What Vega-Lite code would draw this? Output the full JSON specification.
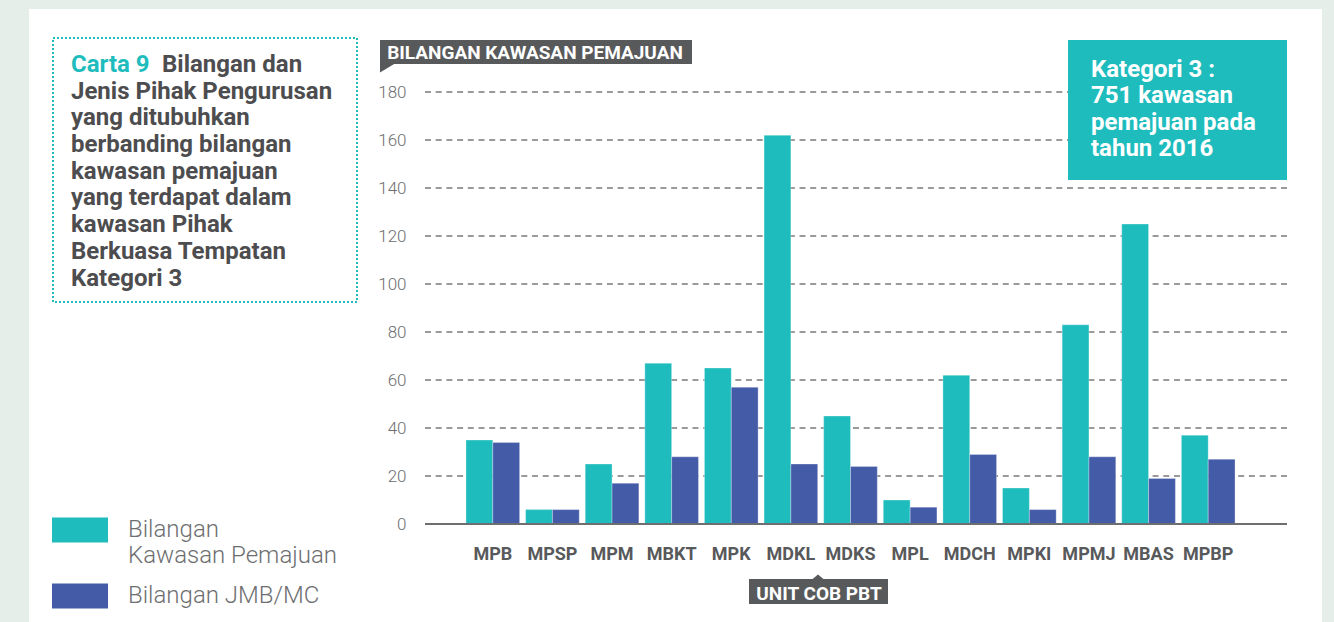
{
  "$schema": "https://vega.github.io/schema/vega-lite/v6.json",
  "autosize": {"type": "none"},
  "padding": {"left": 425, "top": 92, "right": 47, "bottom": 98},
  "width": 862,
  "height": 432,
  "background": "#ffffff",
  "config": {
    "view": {"stroke": null},
    "font": "Roboto"
  },
  "datasets": {
    "bars": [
      {"pbt": "MPB", "siri": "Bilangan Kawasan Pemajuan", "nilai": 35},
      {"pbt": "MPB", "siri": "Bilangan JMB/MC", "nilai": 34},
      {"pbt": "MPSP", "siri": "Bilangan Kawasan Pemajuan", "nilai": 6},
      {"pbt": "MPSP", "siri": "Bilangan JMB/MC", "nilai": 6},
      {"pbt": "MPM", "siri": "Bilangan Kawasan Pemajuan", "nilai": 25},
      {"pbt": "MPM", "siri": "Bilangan JMB/MC", "nilai": 17},
      {"pbt": "MBKT", "siri": "Bilangan Kawasan Pemajuan", "nilai": 67},
      {"pbt": "MBKT", "siri": "Bilangan JMB/MC", "nilai": 28},
      {"pbt": "MPK", "siri": "Bilangan Kawasan Pemajuan", "nilai": 65},
      {"pbt": "MPK", "siri": "Bilangan JMB/MC", "nilai": 57},
      {"pbt": "MDKL", "siri": "Bilangan Kawasan Pemajuan", "nilai": 162},
      {"pbt": "MDKL", "siri": "Bilangan JMB/MC", "nilai": 25},
      {"pbt": "MDKS", "siri": "Bilangan Kawasan Pemajuan", "nilai": 45},
      {"pbt": "MDKS", "siri": "Bilangan JMB/MC", "nilai": 24},
      {"pbt": "MPL", "siri": "Bilangan Kawasan Pemajuan", "nilai": 10},
      {"pbt": "MPL", "siri": "Bilangan JMB/MC", "nilai": 7},
      {"pbt": "MDCH", "siri": "Bilangan Kawasan Pemajuan", "nilai": 62},
      {"pbt": "MDCH", "siri": "Bilangan JMB/MC", "nilai": 29},
      {"pbt": "MPKI", "siri": "Bilangan Kawasan Pemajuan", "nilai": 15},
      {"pbt": "MPKI", "siri": "Bilangan JMB/MC", "nilai": 6},
      {"pbt": "MPMJ", "siri": "Bilangan Kawasan Pemajuan", "nilai": 83},
      {"pbt": "MPMJ", "siri": "Bilangan JMB/MC", "nilai": 28},
      {"pbt": "MBAS", "siri": "Bilangan Kawasan Pemajuan", "nilai": 125},
      {"pbt": "MBAS", "siri": "Bilangan JMB/MC", "nilai": 19},
      {"pbt": "MPBP", "siri": "Bilangan Kawasan Pemajuan", "nilai": 37},
      {"pbt": "MPBP", "siri": "Bilangan JMB/MC", "nilai": 27}
    ]
  },
  "layer": [
    {
      "data": {"values": [{}]},
      "mark": {"type": "rect", "fill": "#E6EEE9"},
      "encoding": {"x": {"value": -425}, "x2": {"value": -396}, "y": {"value": -92}, "y2": {"value": 530}}
    },
    {
      "data": {"values": [{}]},
      "mark": {"type": "rect", "fill": "#E6EEE9"},
      "encoding": {"x": {"value": -425}, "x2": {"value": 909}, "y": {"value": -92}, "y2": {"value": -83}}
    },
    {
      "data": {"values": [{}]},
      "mark": {"type": "rect", "fill": "#E6EEE9"},
      "encoding": {"x": {"value": 897}, "x2": {"value": 909}, "y": {"value": -92}, "y2": {"value": 530}}
    },
    {
      "data": {"values": [{"nilai": 20}, {"nilai": 40}, {"nilai": 60}, {"nilai": 80}, {"nilai": 100}, {"nilai": 120}, {"nilai": 140}, {"nilai": 160}, {"nilai": 180}]},
      "mark": {"type": "rule", "color": "#7a7a7a", "strokeWidth": 1.5, "strokeDash": [6, 4.7]},
      "encoding": {"y": {"field": "nilai", "type": "quantitative"}}
    },
    {
      "data": {"name": "bars"},
      "mark": {"type": "bar", "stroke": "#ffffff", "strokeWidth": 0.6, "strokeOpacity": 0.5},
      "encoding": {
        "x": {
          "field": "pbt", "type": "nominal", "sort": null,
          "scale": {"range": [38, 813], "paddingInner": 0.1, "paddingOuter": 0.05},
          "axis": {
            "title": null, "domain": false, "ticks": false, "tickSize": 0,
            "labelAngle": 0, "labelFont": "Roboto", "labelFontSize": 18, "labelFontWeight": "bold",
            "labelColor": "#58595B", "labelPadding": 21
          }
        },
        "xOffset": {"field": "siri", "type": "nominal", "sort": ["Bilangan Kawasan Pemajuan", "Bilangan JMB/MC"], "scale": {"paddingInner": 0, "paddingOuter": 0}},
        "y": {
          "field": "nilai", "type": "quantitative",
          "scale": {"domain": [0, 180], "nice": false},
          "axis": {
            "title": null, "domain": false, "ticks": false, "tickSize": 0, "grid": false,
            "values": [0, 20, 40, 60, 80, 100, 120, 140, 160, 180],
            "labelFont": "Roboto", "labelFontSize": 17, "labelFontWeight": 300, "labelColor": "#6d6e70",
            "labelPadding": 19
          }
        },
        "color": {
          "field": "siri", "type": "nominal",
          "sort": ["Bilangan Kawasan Pemajuan", "Bilangan JMB/MC"],
          "scale": {"domain": ["Bilangan Kawasan Pemajuan", "Bilangan JMB/MC"], "range": ["#1FBCBE", "#445BA8"]},
          "legend": {
            "title": null, "orient": "none", "legendX": -373, "legendY": 410,
            "symbolType": "M-1,-0.45H1V0.45H-1Z", "symbolSize": 3136, "symbolOpacity": 1, "symbolStrokeWidth": 0,
            "labelFont": "Roboto", "labelFontSize": 24, "labelFontWeight": 300, "labelColor": "#6d6e70",
            "labelOffset": 20, "labelLimit": 400, "rowPadding": -7, "labelLineHeight": 26.7,
            "labelExpr": "datum.label == 'Bilangan Kawasan Pemajuan' ? ['Bilangan', 'Kawasan Pemajuan'] : datum.label"
          }
        }
      }
    },
    {
      "data": {"values": [{"nilai": 0}]},
      "mark": {"type": "rule", "color": "#6d6e70", "strokeWidth": 2},
      "encoding": {"y": {"field": "nilai", "type": "quantitative"}}
    },
    {
      "data": {"values": [{}]},
      "mark": {"type": "rect", "fill": "none", "stroke": "#1FBCBE", "strokeWidth": 2, "strokeDash": [2, 2]},
      "encoding": {"x": {"value": -372}, "x2": {"value": -68}, "y": {"value": -54}, "y2": {"value": 210}}
    },
    {
      "data": {"values": [{"t": "Carta 9"}]},
      "mark": {"type": "text", "align": "left", "baseline": "alphabetic", "font": "Roboto", "fontSize": 24, "fontWeight": "bold", "color": "#1FBCBE"},
      "encoding": {"text": {"field": "t"}, "x": {"value": -354}, "y": {"value": -20}}
    },
    {
      "data": {"values": [{"t": "Bilangan dan"}]},
      "mark": {"type": "text", "align": "left", "baseline": "alphabetic", "font": "Roboto", "fontSize": 24, "fontWeight": "bold", "color": "#4D4D4F"},
      "encoding": {"text": {"field": "t"}, "x": {"value": -263}, "y": {"value": -20}}
    },
    {
      "data": {"values": [{}]},
      "mark": {
        "type": "text", "align": "left", "baseline": "alphabetic", "font": "Roboto", "fontSize": 24, "fontWeight": "bold", "color": "#4D4D4F", "lineHeight": 26.7,
        "text": ["Jenis Pihak Pengurusan", "yang ditubuhkan", "berbanding bilangan", "kawasan pemajuan", "yang terdapat dalam", "kawasan Pihak", "Berkuasa Tempatan", "Kategori 3"]
      },
      "encoding": {"x": {"value": -354}, "y": {"value": 6.7}}
    },
    {
      "data": {"values": [{}]},
      "mark": {"type": "rect", "fill": "#1FBCBE"},
      "encoding": {"x": {"value": 643}, "x2": {"value": 862}, "y": {"value": -52}, "y2": {"value": 88}}
    },
    {
      "data": {"values": [{}]},
      "mark": {
        "type": "text", "align": "left", "baseline": "alphabetic", "font": "Roboto", "fontSize": 24, "fontWeight": "bold", "color": "#ffffff", "lineHeight": 26.4,
        "text": ["Kategori 3 :", "751 kawasan", "pemajuan pada", "tahun 2016"]
      },
      "encoding": {"x": {"value": 666}, "y": {"value": -15}}
    },
    {
      "data": {"values": [{}]},
      "mark": {"type": "rect", "fill": "#58595B"},
      "encoding": {"x": {"value": -45}, "x2": {"value": 267}, "y": {"value": -52}, "y2": {"value": -28}}
    },
    {
      "data": {"values": [{}]},
      "mark": {"type": "point", "shape": "M0,0L15,0L0,9Z", "size": 4, "filled": true, "fill": "#58595B", "opacity": 1, "strokeWidth": 0},
      "encoding": {"x": {"value": -45}, "y": {"value": -28.5}}
    },
    {
      "data": {"values": [{"t": "BILANGAN KAWASAN PEMAJUAN"}]},
      "mark": {"type": "text", "align": "center", "baseline": "alphabetic", "font": "Roboto", "fontSize": 19, "fontWeight": "bold", "color": "#ffffff"},
      "encoding": {"text": {"field": "t"}, "x": {"value": 110}, "y": {"value": -33}}
    },
    {
      "data": {"values": [{}]},
      "mark": {"type": "rect", "fill": "#58595B"},
      "encoding": {"x": {"value": 324}, "x2": {"value": 463}, "y": {"value": 487}, "y2": {"value": 512}}
    },
    {
      "data": {"values": [{}]},
      "mark": {"type": "point", "shape": "M-6,0L0,-5L6,0Z", "size": 4, "filled": true, "fill": "#58595B", "opacity": 1, "strokeWidth": 0},
      "encoding": {"x": {"value": 393}, "y": {"value": 487.5}}
    },
    {
      "data": {"values": [{"t": "UNIT COB PBT"}]},
      "mark": {"type": "text", "align": "center", "baseline": "alphabetic", "font": "Roboto", "fontSize": 19, "fontWeight": "bold", "color": "#ffffff"},
      "encoding": {"text": {"field": "t"}, "x": {"value": 394}, "y": {"value": 508}}
    }
  ]
}
